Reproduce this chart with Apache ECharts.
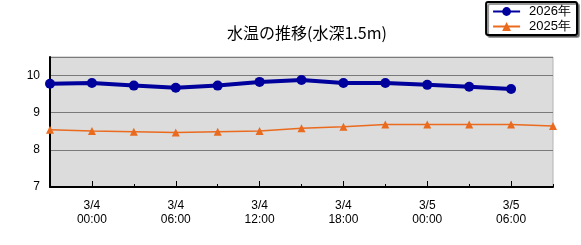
<!DOCTYPE html>
<html><head><meta charset="utf-8">
<script src="https://cdn.jsdelivr.net/npm/echarts@6/dist/echarts.min.js"></script>
<style>html,body{margin:0;padding:0;background:#fff}#c{width:581px;height:245px}</style>
</head><body><div id="c"></div>
<script>
const titleText = '水温の推移(水深1.5m)';
const categories = ['3/3\n21:00','3/4\n00:00','3/4\n03:00','3/4\n06:00','3/4\n09:00','3/4\n12:00','3/4\n15:00','3/4\n18:00','3/4\n21:00','3/5\n00:00','3/5\n03:00','3/5\n06:00','3/5\n09:00'];
const series2026 = [9.78, 9.80, 9.73, 9.67, 9.73, 9.83, 9.88, 9.80, 9.80, 9.75, 9.70, 9.64];
const series2025 = [8.54, 8.51, 8.49, 8.47, 8.49, 8.51, 8.58, 8.62, 8.68, 8.68, 8.68, 8.68, 8.64];
const yTicks = [7, 8, 9, 10];

const font = 'Liberation Sans';
const chart = echarts.init(document.getElementById('c'));
chart.setOption({
  animation: false,
  title: {
    text: titleText, left: 302, top: 20, textAlign: 'center',
    textStyle: {fontFamily: 'Noto Sans CJK JP', fontSize: 16, fontWeight: 'normal', color: '#000'}
  },
  legend: {
    orient: 'vertical', right: 4, top: 2,
    data: ['2026年', '2025年'],
    backgroundColor: '#fff', borderColor: '#000', borderWidth: 2, borderRadius: 2,
    shadowColor: 'rgba(0,0,0,0.4)', shadowOffsetX: 2, shadowOffsetY: 2, shadowBlur: 0,
    padding: [3, 6, 2, 6], itemGap: 2, itemWidth: 27, itemHeight: 11,
    textStyle: {fontFamily: font, fontSize: 13, color: '#000', padding: [0, 0, 0, 4]}
  },
  grid: {
    left: 50, right: 28, top: 57, bottom: 58, show: true,
    backgroundColor: '#dcdcdc', borderColor: '#b4b4b4', borderWidth: 1
  },
  xAxis: [{
    type: 'category', data: categories, boundaryGap: false,
    axisLine: {lineStyle: {color: '#000', width: 2}},
    axisTick: {inside: true, length: 6, interval: (i) => i % 2 === 1, lineStyle: {color: '#000'}},
    axisLabel: {interval: (i) => i % 2 === 1, fontFamily: font, fontSize: 12, color: '#000', lineHeight: 14, margin: 12},
    splitLine: {show: false}
  }, {
    type: 'category', data: categories, boundaryGap: false, position: 'bottom',
    axisLine: {show: false},
    axisTick: {inside: true, length: 3, interval: 0, lineStyle: {color: '#000'}},
    axisLabel: {show: false}, splitLine: {show: false}
  }],
  yAxis: {
    type: 'value', min: 7, max: 10.5, interval: 1,
    axisLine: {show: true, lineStyle: {color: '#000', width: 2}},
    axisTick: {show: false},
    axisLabel: {fontFamily: font, fontSize: 12, color: '#000', margin: 10,
      formatter: (v) => yTicks.includes(v) ? String(v) : ''},
    splitLine: {lineStyle: {color: '#7a7a7a', width: 1}}
  },
  series: [{
    name: '2026年', type: 'line', data: series2026, xAxisIndex: 0,
    symbol: 'circle', symbolSize: 10,
    lineStyle: {color: '#00009c', width: 4},
    itemStyle: {color: '#00009c'}, z: 3
  }, {
    name: '2025年', type: 'line', data: series2025, xAxisIndex: 0,
    symbol: 'triangle', symbolSize: 8,
    lineStyle: {color: '#ea6a1e', width: 1.5},
    itemStyle: {color: '#ea6a1e'}, z: 2
  }]
});
</script></body></html>
